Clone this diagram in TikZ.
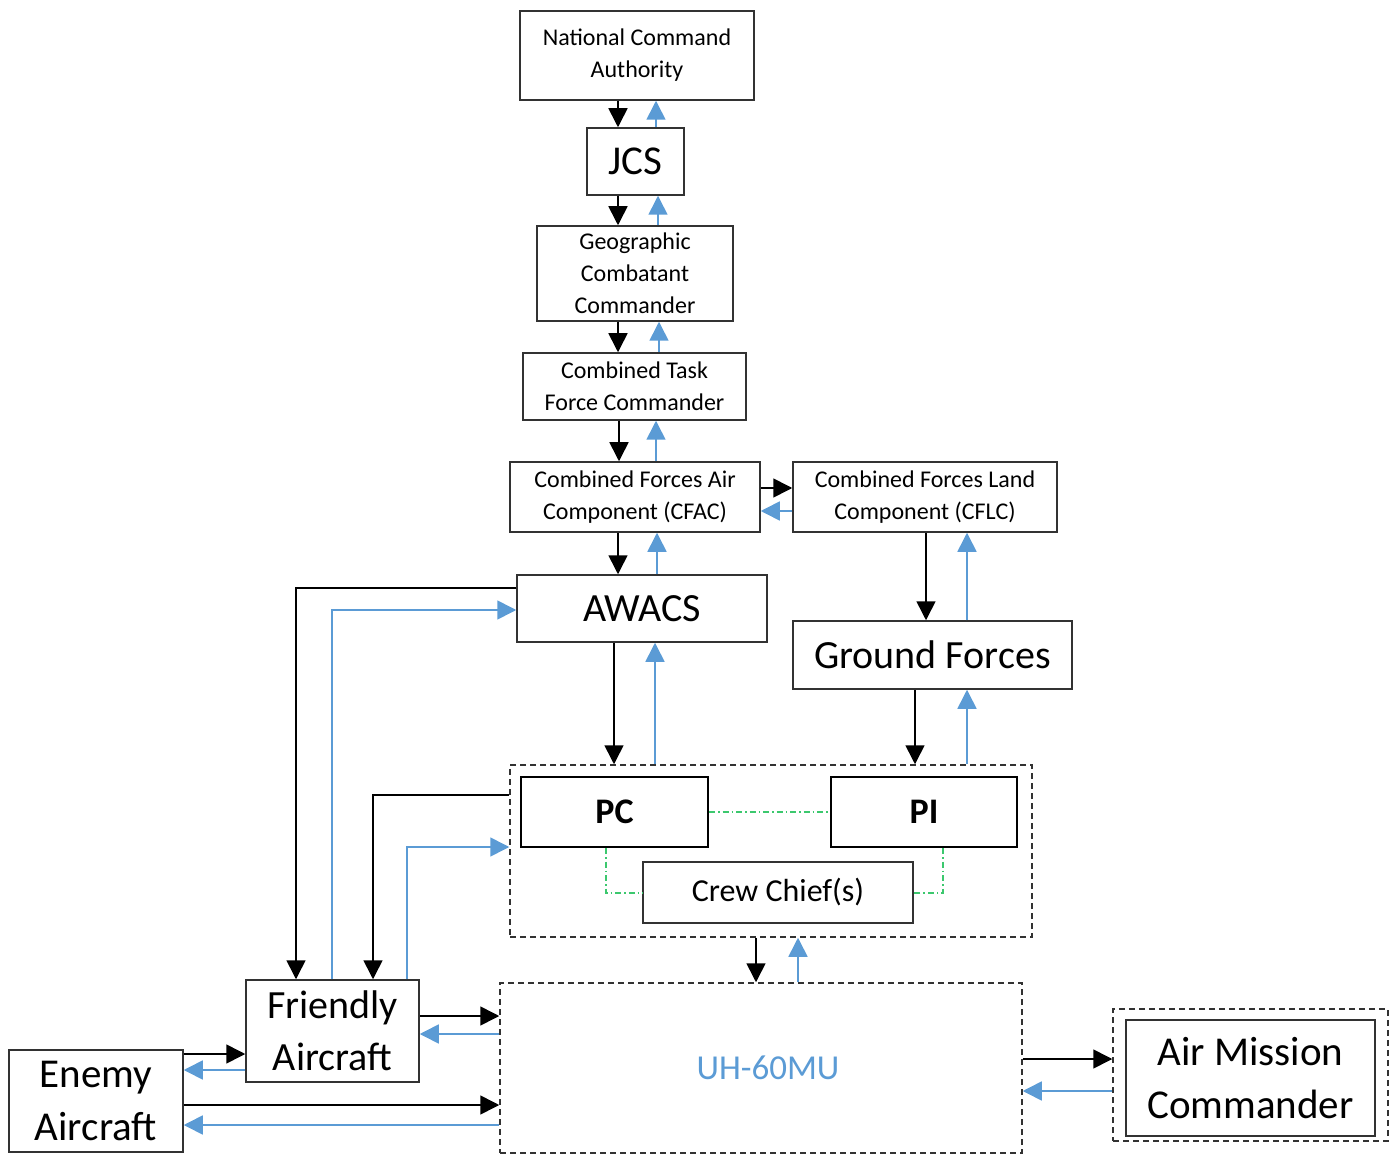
\documentclass[tikz,border=0pt]{standalone}
\usepackage{fontspec}
\setmainfont{Carlito}
\usetikzlibrary{arrows.meta}
\definecolor{ablue}{RGB}{91,155,213}
\definecolor{agreen}{RGB}{60,200,110}
\definecolor{aframe}{RGB}{50,50,50}
\tikzset{
  box/.style={draw=aframe, line width=1.5pt, inner sep=0pt, align=center, fill=white},
  dbox/.style={draw=aframe, line width=1.5pt, inner sep=0pt, dash pattern=on 6pt off 4pt},
  fs24/.style={font=\fontsize{24}{32}\selectfont},
  fs40/.style={font=\fontsize{40}{52}\selectfont},
  blk/.style={draw=black, line width=1.6pt, -{Triangle[length=19pt,width=19pt]}},
  blu/.style={draw=ablue, line width=1.6pt, -{Triangle[length=19pt,width=19pt]}},
  grn/.style={draw=agreen, line width=1.3pt, dash pattern=on 6pt off 3pt on 1.5pt off 3pt},
}
\begin{document}
\begin{tikzpicture}[x=1pt,y=-1pt]
\useasboundingbox (0,0) rectangle (1393,1155);
% nodes
\node[box,fs24,minimum width=234pt,minimum height=89pt] (NCA) at (637,55.5) {National Command\\Authority};
\node[box,font=\fontsize{41}{50}\selectfont,minimum width=97pt,minimum height=67pt] (JCS) at (635.5,161.5) {JCS};
\node[box,fs24,minimum width=196pt,minimum height=95pt] (GCC) at (635,273.5) {Geographic\\Combatant\\Commander};
\node[box,fs24,minimum width=223pt,minimum height=67pt] (CTFC) at (634.5,386.5) {Combined Task\\Force Commander};
\node[box,fs24,minimum width=250pt,minimum height=70pt] (CFAC) at (635,497) {Combined Forces Air\\Component (CFAC)};
\node[box,fs24,minimum width=264pt,minimum height=70pt] (CFLC) at (925,497) {Combined Forces Land\\Component (CFLC)};
\node[box,fs40,minimum width=250pt,minimum height=67pt] (AWACS) at (642,608.5) {AWACS};
\node[box,fs40,minimum width=279pt,minimum height=68pt] (GF) at (932.5,655) {Ground Forces};
\node[dbox,minimum width=522pt,minimum height=172pt] (GRP) at (771,851) {};
\node[box,draw=black,line width=2.2pt,font=\fontsize{36}{44}\selectfont\bfseries,minimum width=187pt,minimum height=70pt] (PC) at (614.5,812) {PC};
\node[box,draw=black,line width=2.2pt,font=\fontsize{36}{44}\selectfont\bfseries,minimum width=186pt,minimum height=70pt] (PI) at (924,812) {PI};
\node[box,font=\fontsize{32}{40}\selectfont,minimum width=270pt,minimum height=61pt] (CREW) at (778,892.5) {Crew Chief(s)};
\node[dbox,text=ablue,font=\fontsize{35}{44}\selectfont,minimum width=522pt,minimum height=170pt] (UH) at (761,1068) {\hspace*{14pt}UH-60MU};
\node[dbox,minimum width=275pt,minimum height=132pt] (AMCO) at (1250.5,1075) {};
\node[box,font=\fontsize{41}{53}\selectfont,minimum width=249pt,minimum height=116pt] (AMC) at (1250.5,1078) {Air Mission\\Commander};
\node[box,font=\fontsize{40}{52}\selectfont,minimum width=173pt,minimum height=102pt] (FA) at (332.5,1031) {Friendly\\Aircraft};
\node[box,font=\fontsize{41}{53}\selectfont,minimum width=174pt,minimum height=102pt] (EA) at (96,1101) {Enemy\\Aircraft};
% vertical chain
\draw[blk] (NCA.south -| 618,0) -- (JCS.north -| 618,0);
\draw[blu] (JCS.north -| 656,0) -- (NCA.south -| 656,0);
\draw[blk] (JCS.south -| 618,0) -- (GCC.north -| 618,0);
\draw[blu] (GCC.north -| 658,0) -- (JCS.south -| 658,0);
\draw[blk] (GCC.south -| 618,0) -- (CTFC.north -| 618,0);
\draw[blu] (CTFC.north -| 659,0) -- (GCC.south -| 659,0);
\draw[blk] (CTFC.south -| 619,0) -- (CFAC.north -| 619,0);
\draw[blu] (CFAC.north -| 656,0) -- (CTFC.south -| 656,0);
\draw[blk] (CFAC.east |- 0,488) -- (CFLC.west |- 0,488);
\draw[blu] (CFLC.west |- 0,511) -- (CFAC.east |- 0,511);
\draw[blk] (CFAC.south -| 618,0) -- (AWACS.north -| 618,0);
\draw[blu] (AWACS.north -| 657,0) -- (CFAC.south -| 657,0);
\draw[blk] (CFLC.south -| 926,0) -- (GF.north -| 926,0);
\draw[blu] (GF.north -| 967,0) -- (CFLC.south -| 967,0);
\draw[blk] (AWACS.south -| 614,0) -- (GRP.north -| 614,0);
\draw[blu] (GRP.north -| 655,0) -- (AWACS.south -| 655,0);
\draw[blk] (GF.south -| 915,0) -- (GRP.north -| 915,0);
\draw[blu] (GRP.north -| 967,0) -- (GF.south -| 967,0);
\draw[blk] (GRP.south -| 756,0) -- (UH.north -| 756,0);
\draw[blu] (UH.north -| 798,0) -- (GRP.south -| 798,0);
% crew links
\draw[grn] (PC.east) -- (PI.west);
\draw[grn] (PC.south -| 606,0) |- (CREW.west |- 0,893);
\draw[grn] (PI.south -| 943,0) |- (CREW.east |- 0,893);
% AMC
\draw[blk] (UH.east |- 0,1059) -- (AMCO.west |- 0,1059);
\draw[blu] (AMCO.west |- 0,1091) -- (UH.east |- 0,1091);
% left side
\draw[blk] (AWACS.west |- 0,588) -| (FA.north -| 296,0);
\draw[blu] (FA.north -| 332,0) |- (AWACS.west |- 0,610);
\draw[blk] (GRP.west |- 0,795) -| (FA.north -| 373,0);
\draw[blu] (FA.north -| 407,0) |- (GRP.west |- 0,847);
\draw[blk] (FA.east |- 0,1016) -- (UH.west |- 0,1016);
\draw[blu] (UH.west |- 0,1034) -- (FA.east |- 0,1034);
\draw[blk] (EA.east |- 0,1054) -- (FA.west |- 0,1054);
\draw[blu] (FA.west |- 0,1070) -- (EA.east |- 0,1070);
\draw[blk] (EA.east |- 0,1105) -- (UH.west |- 0,1105);
\draw[blu] (UH.west |- 0,1125) -- (EA.east |- 0,1125);
\end{tikzpicture}
\end{document}
